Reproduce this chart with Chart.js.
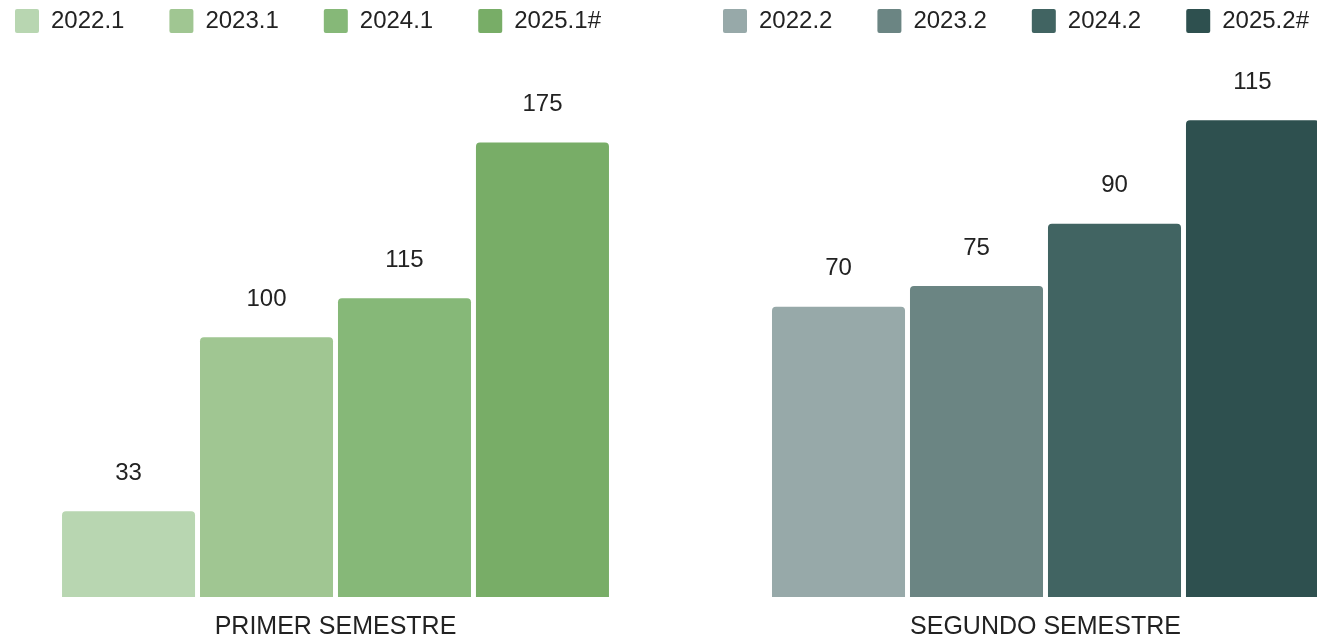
<!DOCTYPE html>
<html>
<head>
<meta charset="utf-8">
<title>Semestres</title>
<script src="https://cdn.jsdelivr.net/npm/chart.js@4.4.1/dist/chart.umd.min.js"></script>
<style>
  html, body { margin: 0; padding: 0; background: #fff; overflow: hidden; width: 1317px; height: 636px; }
  .caja { position: absolute; top: 0; height: 657px; }
  #izq { left: -30px; width: 731px; }
  #der { left: 678px; width: 735px; }
</style>
</head>
<body>
<div class="caja" id="izq"><canvas id="grafico1"></canvas></div>
<div class="caja" id="der"><canvas id="grafico2"></canvas></div>
<script>
var semestre1 = ['PRIMER SEMESTRE'];
var semestre2 = ['SEGUNDO SEMESTRE'];

var periodos1 = ['2022.1', '2023.1', '2024.1', '2025.1#'];
var valores1 = [33, 100, 115, 175];

var periodos2 = ['2022.2', '2023.2', '2024.2', '2025.2#'];
var valores2 = [70, 75, 90, 115];

var colores1 = ['#b8d6b1', '#a0c692', '#86b878', '#78ad67'];
var colores2 = ['#97a9a9', '#6b8583', '#416462', '#2e504f'];

Chart.defaults.font.family = "'Liberation Sans', Arial, sans-serif";
Chart.defaults.color = '#222';

// numeros encima de cada barra
var etiquetas = {
  id: 'etiquetas',
  afterDatasetsDraw: function(chart) {
    var ctx = chart.ctx;
    ctx.save();
    ctx.font = "24px 'Liberation Sans', Arial, sans-serif";
    ctx.fillStyle = '#222';
    ctx.textAlign = 'center';
    ctx.textBaseline = 'middle';
    chart.data.datasets.forEach(function(ds, i) {
      chart.getDatasetMeta(i).data.forEach(function(bar, j) {
        ctx.fillText(ds.data[j], bar.x, bar.y - 38);
      });
    });
    ctx.restore();
  }
};

function armarDatos(labels, periodos, valores, colores, catPct) {
  var datasets = [];
  for (var i in periodos) {
    datasets.push({
      label: periodos[i],
      data: [valores[i]],
      backgroundColor: colores[i],
      borderWidth: 0,
      borderRadius: 4,
      barPercentage: 0.964,
      categoryPercentage: catPct
    });
  }
  return { labels: labels, datasets: datasets };
}

function opciones(maxY) {
  return {
    responsive: true,
    maintainAspectRatio: false,
    animation: false,
    layout: { padding: { top: -36 } },
    plugins: {
      legend: {
        position: 'top',
        align: 'start',
        labels: {
          boxWidth: 24,
          boxHeight: 24,
          padding: 45,
          useBorderRadius: true,
          borderRadius: 2,
          color: '#222',
          font: { size: 24 }
        }
      },
      tooltip: { enabled: false }
    },
    scales: {
      x: {
        grid: { display: false, drawTicks: false },
        border: { display: false },
        ticks: { color: '#222', padding: 15, font: { size: 25 } }
      },
      y: { display: false, min: 0, max: maxY }
    }
  };
}

new Chart(document.getElementById('grafico1'), {
  type: 'bar',
  data: armarDatos(semestre1, periodos1, valores1, colores1, 0.755),
  options: opciones(213.3),
  plugins: [etiquetas]
});

new Chart(document.getElementById('grafico2'), {
  type: 'bar',
  data: armarDatos(semestre2, periodos2, valores2, colores2, 0.751),
  options: opciones(133.6),
  plugins: [etiquetas]
});
</script>
</body>
</html>
